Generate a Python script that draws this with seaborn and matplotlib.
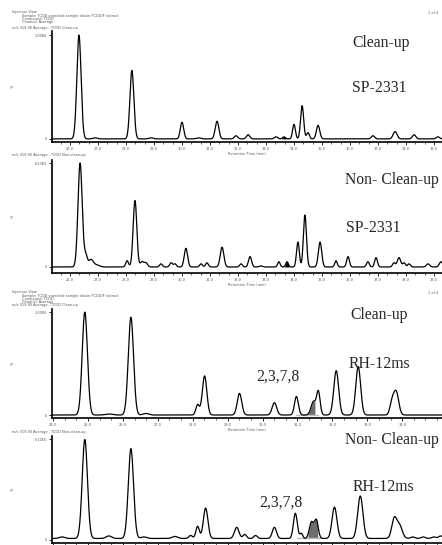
import numpy as np
import pandas as pd
import matplotlib
matplotlib.use("Agg")
import matplotlib.pyplot as plt
from matplotlib.ticker import MultipleLocator
import seaborn as sns

# ---------------- data (peaks) ----------------
# Panel 1: Clean-up, SP-2331
p1_times = [26.32, 26.90, 28.21, 28.90, 30.00, 30.60, 31.25, 31.93, 32.36, 33.36, 33.64,
            34.00, 34.29, 34.50, 34.86, 36.82, 37.61, 38.29, 39.14]
p1_heights = [100, 1, 66, 1, 16, 1, 17, 3, 4, 2, 2, 14, 32, 6, 13, 3, 7, 4, 2]
p1_widths = [0.075, 0.08, 0.07, 0.08, 0.06, 0.08, 0.065, 0.06, 0.06, 0.06, 0.05,
             0.05, 0.055, 0.05, 0.06, 0.06, 0.07, 0.06, 0.06]

# Panel 2: Non- Clean-up, SP-2331
p2_times = [26.36, 26.56, 26.75, 26.95, 28.04, 28.32, 28.57, 28.71, 29.25, 29.61, 29.75,
            30.14, 30.68, 30.89, 31.43, 32.11, 32.43, 32.82, 33.46, 33.75, 34.14, 34.39,
            34.93, 35.50, 35.93, 36.64, 36.93, 37.57, 37.75, 37.93, 38.11, 38.79, 39.25]
p2_heights = [100, 11, 7, 2, 6, 64, 5, 4, 3, 4, 3, 18, 3, 4, 19, 3, 10, 1, 5, 5, 24,
              50, 24, 6, 10, 5, 9, 4, 9, 4, 3, 3, 5]
p2_widths = [0.075, 0.06, 0.08, 0.10, 0.05, 0.065, 0.06, 0.06, 0.05, 0.05, 0.05,
             0.06, 0.05, 0.05, 0.065, 0.05, 0.055, 0.06, 0.045, 0.045, 0.05,
             0.055, 0.06, 0.045, 0.05, 0.05, 0.05, 0.05, 0.06, 0.05, 0.05, 0.06, 0.06]

# Panel 3: Clean-up, RH-12ms
p3_times = [24.91, 25.60, 26.23, 26.66, 28.14, 28.34, 29.34, 30.34, 30.97, 31.46, 31.60,
            32.11, 32.74, 33.71, 33.83]
p3_heights = [100, 1, 95, 1.5, 10, 38, 21, 12, 18, 13, 22, 43, 47, 12, 22]
p3_widths = [0.075, 0.1, 0.075, 0.08, 0.05, 0.065, 0.065, 0.065, 0.055, 0.07, 0.05,
             0.07, 0.07, 0.06, 0.07]

# Panel 4: Non- Clean-up, RH-12ms
p4_times = [24.26, 24.91, 25.60, 26.23, 26.60, 27.49, 27.94, 28.14, 28.37, 29.26, 29.49,
            29.80, 30.34, 30.94, 31.11, 31.40, 31.54, 32.06, 32.80, 33.77, 33.92,
            34.30, 34.60, 34.90, 35.10]
p4_heights = [1.5, 98, 2.5, 89, 1.5, 2, 3, 12, 30, 11, 4, 3, 11, 25, 5, 16, 18, 31, 42,
              19, 13, 1.5, 1.5, 1.5, 2.5]
p4_widths = [0.08, 0.075, 0.08, 0.075, 0.08, 0.08, 0.05, 0.05, 0.065, 0.065, 0.05, 0.05,
             0.06, 0.055, 0.04, 0.06, 0.055, 0.07, 0.075, 0.07, 0.08, 0.06, 0.06, 0.06, 0.06]
p4_base = 1.5

# shaded (integrated) peak windows
p1_fill = (33.55, 33.72)
p2_fill = (33.66, 33.82)
p3_fill = (31.25, 31.50)
p4_fill = (31.30, 31.58)

sp_ticks = list(range(26, 40))
rh_ticks = list(range(24, 35))
sp_xlim = (25.357, 39.286)
rh_xlim = (23.97, 35.14)

titles = ["Clean-up", "Non- Clean-up", "Clean-up", "Non- Clean-up"]
columns = ["SP-2331", "SP-2331", "RH-12ms", "RH-12ms"]
congener = "2,3,7,8"
top_labels = ["1.00E6", "6.23E5", "1.00E6", "6.10E5"]
mz_lines = ["m/z 319.90 Average - TCDD Clean-up",
            "m/z 319.90 Average - TCDD Non-clean-up",
            "m/z 319.90 Average - TCDD Clean-up",
            "m/z 319.90 Average - TCDD Non-clean-up"]
header = ["Injection View", "Sample: TCDD standard sample dioxin PCDD/F extract",
          "Compound: TCDD", "Channel: Average"]

# ---------------- figure ----------------
sns.set_style("ticks")
plt.rcParams["font.family"] = ["DejaVu Sans"]
W, H = 442, 545
fig = plt.figure(figsize=(W / 100, H / 100), dpi=100)

def fx(px):
    return px / W

def fy(py):
    return 1 - py / H

# axes boxes: (top px, bottom px), ylim
boxes = [(31, 142, (-3, 104)), (160, 273, (-5.8, 103)),
         (309, 418, (-2.9, 103)), (436, 543, (-3, 103))]

peaks = [(p1_times, p1_heights, p1_widths, 0.0, p1_fill, "black"),
         (p2_times, p2_heights, p2_widths, 0.0, p2_fill, "black"),
         (p3_times, p3_heights, p3_widths, 0.0, p3_fill, "#6e6e6e"),
         (p4_times, p4_heights, p4_widths, p4_base, p4_fill, "#6e6e6e")]

for i, ((top, bot, ylim), (tt, hh, ww, base, fill, fcol)) in enumerate(zip(boxes, peaks)):
    ax = fig.add_axes([fx(52), fy(bot), 1 - fx(52), fy(top) - fy(bot)])
    xlim = sp_xlim if i < 2 else rh_xlim
    grid = np.linspace(xlim[0], xlim[1] + 0.2, 3000)
    y = np.full_like(grid, base)
    for t, h, w in zip(tt, hh, ww):
        y = y + h * np.exp(-0.5 * ((grid - t) / w) ** 2)
    df = pd.DataFrame({"time": grid, "signal": y})
    sns.lineplot(data=df, x="time", y="signal", ax=ax, color="black", lw=0.9,
                 estimator=None, sort=False)
    m = (grid >= fill[0]) & (grid <= fill[1])
    ax.fill_between(grid[m], base, y[m], color=fcol, lw=0)
    if i >= 2:
        ax.plot([fill[0] - 0.3, fill[1] + 0.1], [base, base], color="#bdbdbd", lw=1.0,
                zorder=1)
    ax.set_xlim(*xlim)
    ax.set_ylim(*ylim)
    ax.set_yticks([0, 100])
    ax.set_yticklabels(["0", top_labels[i]])
    ticks = sp_ticks if i < 2 else rh_ticks
    ax.set_xticks(ticks)
    ax.xaxis.set_minor_locator(MultipleLocator(1 / 3))
    ax.tick_params(axis="both", labelsize=2.5, length=2, width=0.6, pad=1.5,
                   colors="black", labelcolor="#555555")
    ax.tick_params(axis="x", which="minor", length=1.5, width=0.5)
    if i < 3:
        ax.set_xticklabels([f"{v:.1f}" for v in ticks])
        ax.set_xlabel("Retention Time (min)", fontsize=2.5, color="#555555",
                      labelpad=0.5)
    else:
        # bottom panel: its tick labels fall below the page edge in the original
        ax.set_xticklabels([])
        ax.set_xlabel("")
    ax.set_ylabel("")
    for s in ["top", "right"]:
        ax.spines[s].set_visible(False)
    for s in ["left", "bottom"]:
        ax.spines[s].set_linewidth(1.2)
        ax.spines[s].set_color("black")
    ax.set_facecolor("white")
    # tiny vertical y label
    fig.text(fx(13), fy((top + bot) / 2), "%", rotation=90, fontsize=2.5,
             color="#555555", ha="center", va="center")

serif = ["Liberation Serif", "DejaVu Serif"]
big = 11.3
# annotations
fig.text(fx(352), fy(43), titles[0], family=serif, fontsize=big, va="center")
fig.text(fx(352), fy(88), columns[0], family=serif, fontsize=big, va="center")
fig.text(fx(345), fy(180), titles[1], family=serif, fontsize=big, va="center")
fig.text(fx(346), fy(228), columns[1], family=serif, fontsize=big, va="center")
fig.text(fx(350), fy(315), titles[2], family=serif, fontsize=big, va="center")
fig.text(fx(349), fy(364), columns[2], family=serif, fontsize=big, va="center")
fig.text(fx(256), fy(377), congener, family=serif, fontsize=big, va="center")
fig.text(fx(345), fy(440), titles[3], family=serif, fontsize=big, va="center")
fig.text(fx(353), fy(487), columns[3], family=serif, fontsize=big, va="center")
fig.text(fx(259), fy(503), congener, family=serif, fontsize=big, va="center")

# tiny instrument header text
small = dict(fontsize=2.5, color="#555555", va="center")
for y0 in [12, 292]:
    fig.text(fx(12), fy(y0), header[0], **small)
    for k, line in enumerate(header[1:]):
        fig.text(fx(22), fy(y0 + 4 + 3.2 * k), line, **small)
    fig.text(fx(428), fy(y0 + 1), "1 of 4", **small)
fig.text(fx(12), fy(28), mz_lines[0], **small)
fig.text(fx(12), fy(155), mz_lines[1], **small)
fig.text(fx(12), fy(305), mz_lines[2], **small)
fig.text(fx(12), fy(432), mz_lines[3], **small)

fig.savefig("out.png", dpi=100, facecolor="white")
